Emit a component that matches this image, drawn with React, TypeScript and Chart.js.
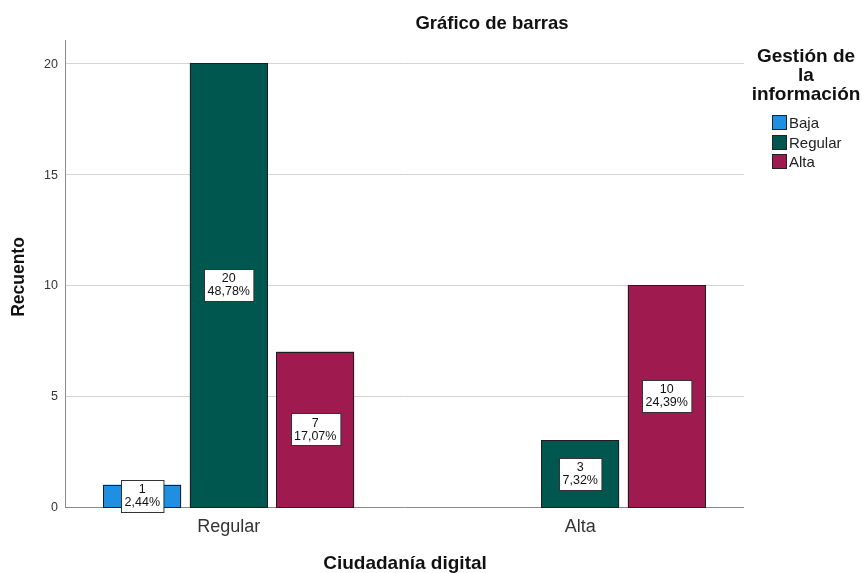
import React, { useEffect, useRef } from "react";
import { Chart, registerables } from "chart.js";

Chart.register(...registerables);

const categories = ["Regular", "Alta"];
const seriesNames = ["Baja", "Regular", "Alta"];
const bajaValues: (number | null)[] = [1, null];
const regularValues: (number | null)[] = [20, 3];
const altaValues: (number | null)[] = [7, 10];
const seriesColors = ["#1E8FE1", "#00574F", "#9E1A4F"];
const yTicks = [0, 5, 10, 15, 20];
const chartTitle = "Gráfico de barras";
const xTitle = "Ciudadanía digital";
const yTitle = "Recuento";
const legendTitle = ["Gestión de", "la", "información"];

const FONT = "'Liberation Sans', Arial, sans-serif";

export default function App() {
  const ref = useRef<HTMLCanvasElement | null>(null);

  useEffect(() => {
    document.body.style.margin = "0";
    const canvas = ref.current;
    if (!canvas) return;
    const allSeries = [bajaValues, regularValues, altaValues];
    const total = allSeries.reduce(
      (s, arr) => s + arr.reduce((a: number, v) => a + (v ?? 0), 0),
      0
    );

    const overlay = {
      id: "overlay",
      beforeDatasetsDraw(chart: any) {
        const ctx = chart.ctx;
        const y = chart.scales.y;
        const axisX = 65;
        const rightX = 744;
        ctx.save();
        ctx.lineWidth = 1;
        for (const t of yTicks) {
          const py = Math.round(y.getPixelForValue(t)) + 0.5;
          ctx.strokeStyle = t === 0 ? "#8a8a8a" : "#d4d4d4";
          ctx.beginPath();
          ctx.moveTo(axisX, py);
          ctx.lineTo(rightX, py);
          ctx.stroke();
        }
        ctx.strokeStyle = "#8a8a8a";
        ctx.beginPath();
        ctx.moveTo(axisX + 0.5, chart.chartArea.top);
        ctx.lineTo(axisX + 0.5, Math.round(y.getPixelForValue(0)) + 1);
        ctx.stroke();
        ctx.restore();
      },
      afterDatasetsDraw(chart: any) {
        const ctx = chart.ctx;
        const x = chart.scales.x;
        const y = chart.scales.y;
        ctx.save();
        // bar outlines
        ctx.strokeStyle = "#1e1e1e";
        ctx.lineWidth = 1;
        chart.data.datasets.forEach((ds: any, di: number) => {
          const meta = chart.getDatasetMeta(di);
          meta.data.forEach((bar: any, i: number) => {
            if (ds.data[i] == null) return;
            const l = Math.round(bar.x - bar.width / 2) + 0.5;
            const r = Math.round(bar.x + bar.width / 2) - 0.5;
            const t = Math.round(bar.y) + 0.5;
            const b = Math.round(bar.base) + 0.5;
            ctx.strokeRect(l, t, r - l, b - t);
          });
        });
        // y tick labels
        ctx.fillStyle = "#333";
        ctx.font = `12.5px ${FONT}`;
        ctx.textAlign = "right";
        ctx.textBaseline = "middle";
        for (const t of yTicks) {
          ctx.fillText(String(t), 58, y.getPixelForValue(t) + 1);
        }
        // x tick labels
        ctx.font = `18px ${FONT}`;
        ctx.textAlign = "center";
        categories.forEach((c, i) => {
          ctx.fillText(c, x.getPixelForValue(i), 527);
        });
        // titles
        ctx.fillStyle = "#111";
        ctx.font = `bold 18.5px ${FONT}`;
        ctx.fillText(chartTitle, 492, 24);
        ctx.font = `bold 19px ${FONT}`;
        ctx.fillText(xTitle, 405, 564);
        ctx.save();
        ctx.translate(19, 277);
        ctx.rotate(-Math.PI / 2);
        ctx.font = `bold 17.5px ${FONT}`;
        ctx.fillText(yTitle, 0, 0);
        ctx.restore();
        // legend
        ctx.font = `bold 19px ${FONT}`;
        const lines = [57, 76, 95];
        legendTitle.forEach((l, i) => ctx.fillText(l, 806, lines[i]));
        ctx.font = `15px ${FONT}`;
        ctx.textAlign = "left";
        const centers = [122.5, 142.5, 161.5];
        seriesNames.forEach((n, i) => {
          const cy = centers[i];
          ctx.fillStyle = seriesColors[i];
          ctx.fillRect(772, Math.round(cy - 7.5), 15, 15);
          ctx.strokeStyle = "#222";
          ctx.lineWidth = 1;
          ctx.strokeRect(772.5, Math.round(cy - 7.5) + 0.5, 14, 14);
          ctx.fillStyle = "#222";
          ctx.fillText(n, 789, cy + 1);
        });
        // data labels
        ctx.font = `12.5px ${FONT}`;
        ctx.textAlign = "center";
        chart.data.datasets.forEach((ds: any, di: number) => {
          const meta = chart.getDatasetMeta(di);
          meta.data.forEach((bar: any, i: number) => {
            const v = ds.data[i];
            if (v == null) return;
            const l1 = String(v);
            const l2 = ((v / total) * 100).toFixed(2).replace(".", ",") + "%";
            const w = Math.max(ctx.measureText(l1).width, ctx.measureText(l2).width) + 7;
            const h = 32;
            const cx = bar.x;
            const cy = (bar.y + bar.base) / 2;
            const bx = Math.round(cx - w / 2) + 0.5;
            const by = Math.round(cy - h / 2) + 0.5;
            ctx.fillStyle = "#fff";
            ctx.fillRect(bx, by, w, h);
            ctx.strokeStyle = "#333";
            ctx.lineWidth = 1;
            ctx.strokeRect(bx, by, w, h);
            ctx.fillStyle = "#111";
            ctx.fillText(l1, cx, cy - 6);
            ctx.fillText(l2, cx, cy + 7);
          });
        });
        ctx.restore();
      },
    };

    const chart = new Chart(canvas, {
      type: "bar",
      data: {
        labels: categories,
        datasets: allSeries.map((d, i) => ({
          label: seriesNames[i],
          data: d,
          backgroundColor: seriesColors[i],
          borderWidth: 0,
          categoryPercentage: 0.738,
          barPercentage: 0.9,
        })),
      },
      options: {
        animation: false,
        responsive: false,
        maintainAspectRatio: false,
        layout: { padding: { left: 53, right: 106, top: 40, bottom: 66 } },
        plugins: {
          legend: { display: false },
          title: { display: false },
          tooltip: { enabled: false },
        },
        scales: {
          x: { display: false, offset: true },
          y: { display: false, min: 0, max: 21.04 },
        },
      },
      plugins: [overlay],
    });
    return () => chart.destroy();
  }, []);

  return (
    <div style={{ width: 862, height: 573, background: "#fff" }}>
      <canvas ref={ref} width={862} height={573} style={{ display: "block" }} />
    </div>
  );
}
